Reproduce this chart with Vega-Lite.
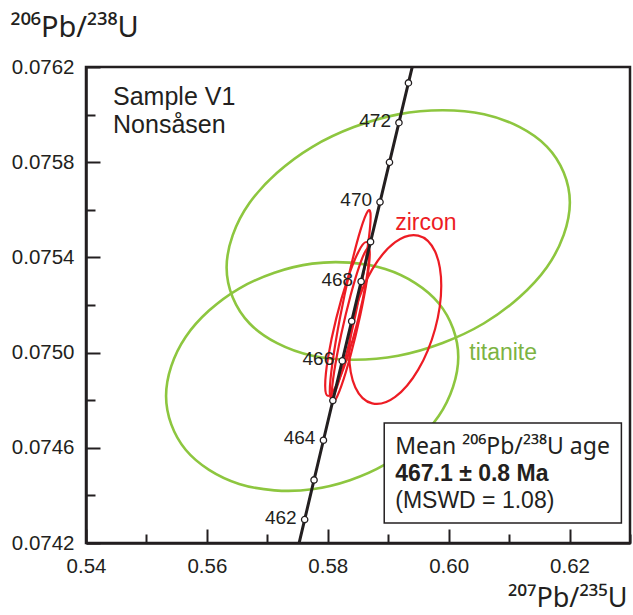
{
"$schema": "https://vega.github.io/schema/vega-lite/v6.json",
"width": 544, "height": 476,
"autosize": "none",
"padding": {"left": 86, "top": 67, "right": 3, "bottom": 72},
"background": "white",
"config": {
  "font": "Liberation Sans",
  "view": {"stroke": "#231f20", "strokeWidth": 2.5},
  "axis": {"grid": false, "labelFlush": false, "domainColor": "#231f20", "domainWidth": 2.5, "tickColor": "#231f20", "tickWidth": 2, "labelColor": "#231f20", "labelFontSize": 20.5, "titleColor": "#231f20", "titleFontWeight": "normal", "titleFontSize": 29, "labelFont": "Liberation Sans", "titleFont": "Noto Sans"}
},
"datasets": {
  "conc": [
    {"t": 461, "x": 0.574623, "y": 0.0741317},
    {"t": 462, "x": 0.576175, "y": 0.0742983, "lab": "462"},
    {"t": 463, "x": 0.577728, "y": 0.0744650},
    {"t": 464, "x": 0.579282, "y": 0.0746317, "lab": "464"},
    {"t": 465, "x": 0.580838, "y": 0.0747984},
    {"t": 466, "x": 0.582396, "y": 0.0749652, "lab": "466"},
    {"t": 467, "x": 0.583955, "y": 0.0751319},
    {"t": 468, "x": 0.585516, "y": 0.0752987, "lab": "468"},
    {"t": 469, "x": 0.587078, "y": 0.0754656},
    {"t": 470, "x": 0.588642, "y": 0.0756324, "lab": "470"},
    {"t": 471, "x": 0.590207, "y": 0.0757993},
    {"t": 472, "x": 0.591774, "y": 0.0759661, "lab": "472"},
    {"t": 473, "x": 0.593343, "y": 0.0761331},
    {"t": 474, "x": 0.594913, "y": 0.0763000}
  ],
  "ell": [
    {"e": "G1", "m": "titanite", "i": 0, "x": 0.620050, "y": 0.0756305},
    {"e": "G1", "m": "titanite", "i": 1, "x": 0.616245, "y": 0.0758657},
    {"e": "G1", "m": "titanite", "i": 2, "x": 0.605853, "y": 0.0760013},
    {"e": "G1", "m": "titanite", "i": 3, "x": 0.591656, "y": 0.0760010},
    {"e": "G1", "m": "titanite", "i": 4, "x": 0.577459, "y": 0.0758647},
    {"e": "G1", "m": "titanite", "i": 5, "x": 0.567067, "y": 0.0756293},
    {"e": "G1", "m": "titanite", "i": 6, "x": 0.563262, "y": 0.0753575},
    {"e": "G1", "m": "titanite", "i": 7, "x": 0.567067, "y": 0.0751223},
    {"e": "G1", "m": "titanite", "i": 8, "x": 0.577459, "y": 0.0749867},
    {"e": "G1", "m": "titanite", "i": 9, "x": 0.591656, "y": 0.0749870},
    {"e": "G1", "m": "titanite", "i": 10, "x": 0.605853, "y": 0.0751233},
    {"e": "G1", "m": "titanite", "i": 11, "x": 0.616245, "y": 0.0753587},
    {"e": "G2", "m": "titanite", "i": 0, "x": 0.601589, "y": 0.0749814},
    {"e": "G2", "m": "titanite", "i": 1, "x": 0.598350, "y": 0.0752075},
    {"e": "G2", "m": "titanite", "i": 2, "x": 0.589503, "y": 0.0753511},
    {"e": "G2", "m": "titanite", "i": 3, "x": 0.577417, "y": 0.0753737},
    {"e": "G2", "m": "titanite", "i": 4, "x": 0.565331, "y": 0.0752693},
    {"e": "G2", "m": "titanite", "i": 5, "x": 0.556484, "y": 0.0750659},
    {"e": "G2", "m": "titanite", "i": 6, "x": 0.553245, "y": 0.0748178},
    {"e": "G2", "m": "titanite", "i": 7, "x": 0.556484, "y": 0.0745917},
    {"e": "G2", "m": "titanite", "i": 8, "x": 0.565331, "y": 0.0744481},
    {"e": "G2", "m": "titanite", "i": 9, "x": 0.577417, "y": 0.0744255},
    {"e": "G2", "m": "titanite", "i": 10, "x": 0.589503, "y": 0.0745299},
    {"e": "G2", "m": "titanite", "i": 11, "x": 0.598350, "y": 0.0747333},
    {"e": "RW", "m": "zircon", "i": 0, "x": 0.598775, "y": 0.0752810},
    {"e": "RW", "m": "zircon", "i": 1, "x": 0.597754, "y": 0.0754245},
    {"e": "RW", "m": "zircon", "i": 2, "x": 0.594967, "y": 0.0754915},
    {"e": "RW", "m": "zircon", "i": 3, "x": 0.591159, "y": 0.0754640},
    {"e": "RW", "m": "zircon", "i": 4, "x": 0.587351, "y": 0.0753495},
    {"e": "RW", "m": "zircon", "i": 5, "x": 0.584564, "y": 0.0751785},
    {"e": "RW", "m": "zircon", "i": 6, "x": 0.583543, "y": 0.0749970},
    {"e": "RW", "m": "zircon", "i": 7, "x": 0.584564, "y": 0.0748535},
    {"e": "RW", "m": "zircon", "i": 8, "x": 0.587351, "y": 0.0747865},
    {"e": "RW", "m": "zircon", "i": 9, "x": 0.591159, "y": 0.0748140},
    {"e": "RW", "m": "zircon", "i": 10, "x": 0.594967, "y": 0.0749285},
    {"e": "RW", "m": "zircon", "i": 11, "x": 0.597754, "y": 0.0750995},
    {"e": "N1", "m": "zircon", "i": 0, "x": 0.587087, "y": 0.0755712},
    {"e": "N1", "m": "zircon", "i": 1, "x": 0.586634, "y": 0.0755947},
    {"e": "N1", "m": "zircon", "i": 2, "x": 0.585398, "y": 0.0755135},
    {"e": "N1", "m": "zircon", "i": 3, "x": 0.583709, "y": 0.0753494},
    {"e": "N1", "m": "zircon", "i": 4, "x": 0.582020, "y": 0.0751463},
    {"e": "N1", "m": "zircon", "i": 5, "x": 0.580784, "y": 0.0749587},
    {"e": "N1", "m": "zircon", "i": 6, "x": 0.580332, "y": 0.0748368},
    {"e": "N1", "m": "zircon", "i": 7, "x": 0.580784, "y": 0.0748133},
    {"e": "N1", "m": "zircon", "i": 8, "x": 0.582020, "y": 0.0748945},
    {"e": "N1", "m": "zircon", "i": 9, "x": 0.583709, "y": 0.0750586},
    {"e": "N1", "m": "zircon", "i": 10, "x": 0.585398, "y": 0.0752617},
    {"e": "N1", "m": "zircon", "i": 11, "x": 0.586634, "y": 0.0754493},
    {"e": "N2", "m": "zircon", "i": 0, "x": 0.586937, "y": 0.0754135},
    {"e": "N2", "m": "zircon", "i": 1, "x": 0.586515, "y": 0.0754366},
    {"e": "N2", "m": "zircon", "i": 2, "x": 0.585364, "y": 0.0753739},
    {"e": "N2", "m": "zircon", "i": 3, "x": 0.583791, "y": 0.0752420},
    {"e": "N2", "m": "zircon", "i": 4, "x": 0.582218, "y": 0.0750763},
    {"e": "N2", "m": "zircon", "i": 5, "x": 0.581067, "y": 0.0749214},
    {"e": "N2", "m": "zircon", "i": 6, "x": 0.580645, "y": 0.0748185},
    {"e": "N2", "m": "zircon", "i": 7, "x": 0.581067, "y": 0.0747954},
    {"e": "N2", "m": "zircon", "i": 8, "x": 0.582218, "y": 0.0748581},
    {"e": "N2", "m": "zircon", "i": 9, "x": 0.583791, "y": 0.0749900},
    {"e": "N2", "m": "zircon", "i": 10, "x": 0.585364, "y": 0.0751557},
    {"e": "N2", "m": "zircon", "i": 11, "x": 0.586515, "y": 0.0753106},
    {"e": "N3", "m": "zircon", "i": 0, "x": 0.586854, "y": 0.0754206},
    {"e": "N3", "m": "zircon", "i": 1, "x": 0.586366, "y": 0.0754647},
    {"e": "N3", "m": "zircon", "i": 2, "x": 0.585033, "y": 0.0754221},
    {"e": "N3", "m": "zircon", "i": 3, "x": 0.583212, "y": 0.0753042},
    {"e": "N3", "m": "zircon", "i": 4, "x": 0.581391, "y": 0.0751427},
    {"e": "N3", "m": "zircon", "i": 5, "x": 0.580058, "y": 0.0749807},
    {"e": "N3", "m": "zircon", "i": 6, "x": 0.579570, "y": 0.0748618},
    {"e": "N3", "m": "zircon", "i": 7, "x": 0.580058, "y": 0.0748177},
    {"e": "N3", "m": "zircon", "i": 8, "x": 0.581391, "y": 0.0748603},
    {"e": "N3", "m": "zircon", "i": 9, "x": 0.583212, "y": 0.0749782},
    {"e": "N3", "m": "zircon", "i": 10, "x": 0.585033, "y": 0.0751397},
    {"e": "N3", "m": "zircon", "i": 11, "x": 0.586366, "y": 0.0753017}
  ],
  "box": [{"x": 0.589338, "x2": 0.628576, "y": 0.0747042, "y2": 0.074284}],
  "boxtext": [
    {"x": 0.591159, "y": 0.074574, "txt": "Mean ²⁰⁶Pb/²³⁸U age", "kind": "sup"},
    {"x": 0.591159, "y": 0.0744605, "txt": "467.1 ± 0.8 Ma", "kind": "bold"},
    {"x": 0.591159, "y": 0.074347, "txt": "(MSWD = 1.08)", "kind": "plain"}
  ],
  "names": [
    {"x": 0.591159, "y": 0.075515, "txt": "zircon", "m": "zircon"},
    {"x": 0.603411, "y": 0.074969, "txt": "titanite", "m": "titanite"}
  ],
  "sample": [
    {"x": 0.54447, "y": 0.07604, "txt": "Sample V1"},
    {"x": 0.54447, "y": 0.075923, "txt": "Nonsåsen"}
  ]
},
"encoding": {
  "x": {"field": "x", "type": "quantitative",
    "scale": {"domain": [0.54, 0.63], "nice": false, "zero": false},
    "axis": {"title": "²⁰⁷Pb/²³⁵U", "values": [0.54, 0.55, 0.56, 0.57, 0.58, 0.59, 0.60, 0.61, 0.62, 0.63],
      "format": ".2f",
      "labelExpr": "round(datum.value*100)%2==1 ? '' : datum.label",
      "tickSize": {"condition": {"test": "round(datum.value*100)%2==1", "value": -9}, "value": -14},
      "labelPadding": 27,
      "titleFontSize": 27,
      "titleAnchor": "start", "titleAlign": "right", "titleBaseline": "alphabetic", "titleX": 541, "titleY": 63}},
  "y": {"field": "y", "type": "quantitative",
    "scale": {"domain": [0.0742, 0.0762], "nice": false, "zero": false},
    "axis": {"title": "²⁰⁶Pb/²³⁸U", "values": [0.0742, 0.0744, 0.0746, 0.0748, 0.075, 0.0752, 0.0754, 0.0756, 0.0758, 0.076, 0.0762],
      "format": ".4f",
      "labelExpr": "round(datum.value*10000)%4==0 ? '' : datum.label",
      "tickSize": {"condition": {"test": "round(datum.value*10000)%4==0", "value": -9}, "value": -14},
      "labelPadding": 26,
      "titleAngle": 0, "titleAnchor": "start", "titleAlign": "left", "titleBaseline": "alphabetic", "titleX": -76, "titleY": -31}}
},
"layer": [
  {"data": {"name": "ell"}, "transform": [{"filter": "datum.m == 'titanite'"}],
   "mark": {"type": "line", "interpolate": "cardinal-closed", "strokeWidth": 2.6, "color": "#8dc63f"},
   "encoding": {"detail": {"field": "e"}, "order": {"field": "i", "type": "quantitative"}}},
  {"data": {"name": "ell"}, "transform": [{"filter": "datum.m == 'zircon'"}],
   "mark": {"type": "line", "interpolate": "cardinal-closed", "strokeWidth": 2.2, "color": "#ed1c24"},
   "encoding": {"detail": {"field": "e"}, "order": {"field": "i", "type": "quantitative"}}},
  {"data": {"name": "box"},
   "mark": {"type": "rect", "fill": "white", "stroke": "#231f20", "strokeWidth": 1.5},
   "encoding": {"x2": {"field": "x2"}, "y2": {"field": "y2"}}},
  {"data": {"name": "boxtext"}, "transform": [{"filter": "datum.kind == 'sup'"}],
   "mark": {"type": "text", "align": "left", "baseline": "alphabetic", "fontSize": 23, "font": "Noto Sans", "color": "#231f20"},
   "encoding": {"text": {"field": "txt"}}},
  {"data": {"name": "boxtext"}, "transform": [{"filter": "datum.kind == 'plain'"}],
   "mark": {"type": "text", "align": "left", "baseline": "alphabetic", "fontSize": 23, "color": "#231f20"},
   "encoding": {"text": {"field": "txt"}}},
  {"data": {"name": "boxtext"}, "transform": [{"filter": "datum.kind == 'bold'"}],
   "mark": {"type": "text", "align": "left", "baseline": "alphabetic", "fontSize": 23, "fontWeight": "bold", "color": "#231f20"},
   "encoding": {"text": {"field": "txt"}}},
  {"data": {"name": "conc"},
   "mark": {"type": "line", "color": "#231f20", "strokeWidth": 3, "clip": true},
   "encoding": {"order": {"field": "t", "type": "quantitative"}}},
  {"data": {"name": "conc"}, "transform": [{"filter": "datum.t >= 462 && datum.t <= 473"}],
   "mark": {"type": "point", "shape": "circle", "filled": false, "fill": "white", "stroke": "#231f20", "strokeWidth": 1.3, "size": 40, "opacity": 1}},
  {"data": {"name": "conc"}, "transform": [{"filter": "datum.lab"}],
   "mark": {"type": "text", "align": "right", "baseline": "middle", "dx": -8, "dy": -2, "fontSize": 19, "color": "#231f20"},
   "encoding": {"text": {"field": "lab"}}},
  {"data": {"name": "names"},
   "mark": {"type": "text", "align": "left", "baseline": "alphabetic", "fontSize": 23},
   "encoding": {"text": {"field": "txt"}, "color": {"field": "m", "type": "nominal", "scale": {"domain": ["zircon", "titanite"], "range": ["#ed1c24", "#7cb342"]}, "legend": null}}},
  {"data": {"name": "sample"},
   "mark": {"type": "text", "align": "left", "baseline": "alphabetic", "fontSize": 25, "color": "#231f20"},
   "encoding": {"text": {"field": "txt"}}}
]
}
